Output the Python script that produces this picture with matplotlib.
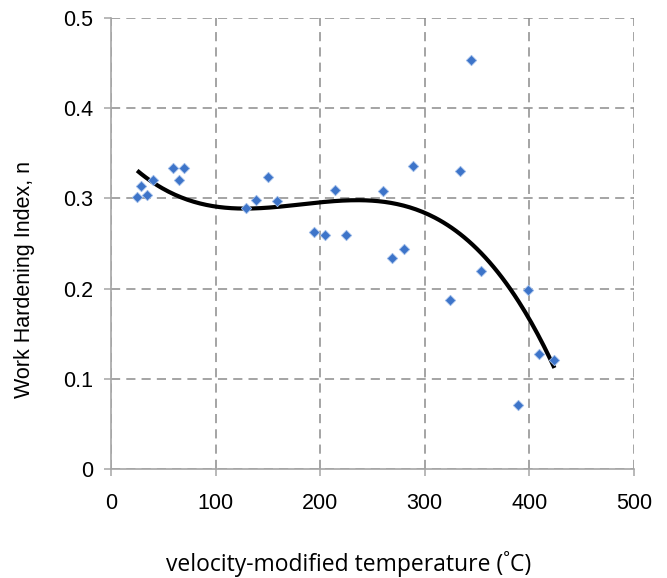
import numpy as np
import matplotlib.pyplot as plt

temperature = [25, 29, 34, 40, 59, 65, 70, 129, 139, 150, 159, 194, 205, 214,
               225, 260, 269, 280, 289, 324, 334, 344, 354, 389, 399, 409, 424]
hardening_n = [0.301, 0.314, 0.304, 0.320, 0.334, 0.320, 0.334, 0.289, 0.298,
               0.324, 0.297, 0.263, 0.259, 0.309, 0.259, 0.308, 0.234, 0.244,
               0.336, 0.187, 0.330, 0.453, 0.220, 0.071, 0.198, 0.127, 0.121]

x_ticks = [0, 100, 200, 300, 400, 500]
y_ticks = [0, 0.1, 0.2, 0.3, 0.4, 0.5]

fig = plt.figure(figsize=(6.67, 5.78), dpi=100)
ax = fig.add_axes([0.1664, 0.1886, 0.784, 0.7803])

# polynomial (order 3) trendline, as in the spreadsheet
coef = np.polyfit(temperature, hardening_n, 3)
xs = np.linspace(min(temperature), max(temperature), 200)
ax.plot(xs, np.polyval(coef, xs), color="black", lw=3, zorder=3,
        solid_capstyle="butt")

ax.scatter(temperature, hardening_n, marker="D", s=28, color="#3d74c9",
           edgecolors="#9dbbe8", linewidths=0.6, zorder=4)

ax.set_xlim(0, 500)
ax.set_ylim(0, 0.5)
ax.set_xticks(x_ticks)
ax.set_yticks(y_ticks)
ax.set_xticklabels([str(t) for t in x_ticks])
ax.set_yticklabels(["0"] + [f"{t:.1f}" for t in y_ticks[1:]])
ax.grid(True, color="#8c8c8c", linestyle=(0, (6, 4)), lw=1.1)
ax.set_axisbelow(True)

for side in ["top", "right"]:
    ax.spines[side].set_visible(False)
for side in ["left", "bottom"]:
    ax.spines[side].set_color("#a6a6a6")
    ax.spines[side].set_linewidth(1.2)

ax.tick_params(axis="both", colors="#a6a6a6", length=5, width=1.1,
               labelcolor="black", labelsize=15.5)
ax.tick_params(axis="x", pad=12)
ax.tick_params(axis="y", pad=8)
for lbl in ax.get_xticklabels() + ax.get_yticklabels():
    lbl.set_family("Liberation Sans")

fig.text(0.523, 0.024, "velocity-modified temperature (˚C)", fontsize=16.5,
         family="Open Sans", ha="center", va="center")
fig.text(0.036, 0.517, "Work Hardening Index, n", fontsize=15.5,
         family="Liberation Sans", rotation=90, ha="center", va="center")

plt.savefig("out.png", dpi=100)
